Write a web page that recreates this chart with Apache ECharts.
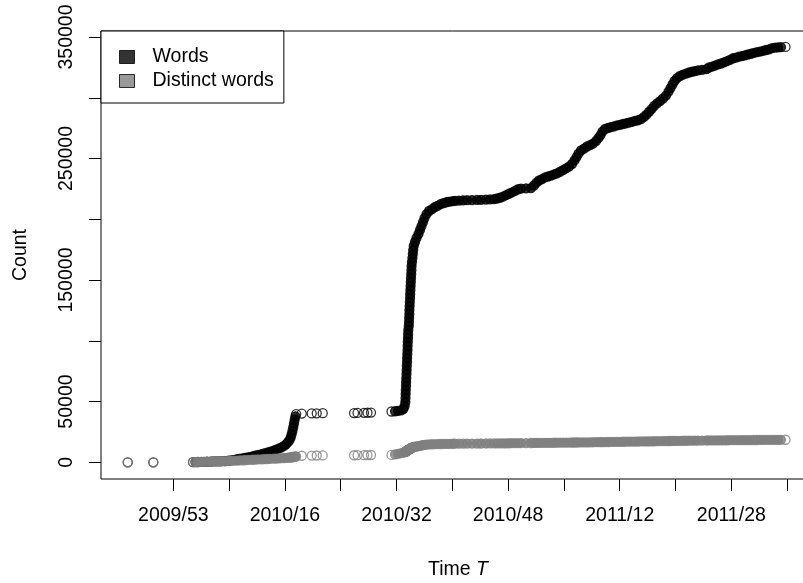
<!DOCTYPE html>
<html>
<head>
<meta charset="utf-8">
<script src="https://cdn.jsdelivr.net/npm/echarts@6/dist/echarts.min.js"></script>
<style>
  html, body { margin: 0; padding: 0; background: #fff; }
  #chart { width: 803px; height: 583px; }
</style>
</head>
<body>
<div id="chart"></div>
<script>
// Time T, in weeks counted from week 2009/53; shared by both series.
const weeks = [
  -6.54, -2.87,
  2.82, 3.18, 3.54, 4.04, 4.40, 4.83, 5.33, 5.69, 6.12, 6.62, 6.98, 7.41, 7.91, 8.27, 8.70, 9.13, 9.56, 10.06, 10.42, 10.85, 11.35,
  11.71, 12.14, 12.65, 13.00, 13.43, 13.86, 14.37, 14.72, 15.15, 15.51, 15.87, 16.16, 16.44, 16.66, 16.83, 16.97, 17.09, 17.20, 17.30, 17.40, 17.50, 17.61,
  18.41, 19.84, 20.56, 21.42,
  25.91, 26.41, 27.34, 27.84, 28.34,
  31.28, 31.79, 32.22, 32.65, 32.98, 33.16,
  33.26, 33.29, 33.31, 33.33, 33.36, 33.38, 33.40, 33.43, 33.45, 33.48, 33.51, 33.52, 33.55, 33.58, 33.59, 33.62, 33.65, 33.66, 33.69, 33.76,
  33.79, 33.81, 33.84, 33.85, 33.88, 33.91, 33.94, 33.96, 33.99, 34.02, 34.05, 34.08, 34.11, 34.14, 34.16, 34.21, 34.28, 34.34, 34.39, 34.47,
  34.65, 34.87, 35.15, 35.37, 35.58, 35.80, 36.01, 36.30, 36.66, 37.09, 37.52, 37.95, 38.38, 38.81, 39.24, 39.67, 40.10,
  40.39, 40.96, 41.53, 42.11, 42.82, 43.54, 44.11, 44.83, 45.41, 45.98, 46.41, 46.84, 47.27, 47.70, 48.13, 48.56, 48.99, 49.42, 49.85, 50.57,
  51.28, 51.71, 52.07, 52.43, 52.86, 53.29, 53.72, 54.15, 54.58, 55.01, 55.44, 55.87, 56.30, 56.73, 57.16, 57.52, 57.81, 58.09, 58.45, 58.88,
  59.31, 59.74, 60.17, 60.60, 60.96, 61.25, 61.53, 61.89, 62.32, 62.75, 63.18, 63.61, 64.04, 64.47, 64.90, 65.33, 65.76, 66.19, 66.62, 67.05,
  67.48, 67.84, 68.20, 68.56, 68.92, 69.35, 69.78, 70.21, 70.64, 71.00, 71.28, 71.57, 71.86, 72.21, 72.64, 73.07, 73.51, 73.94, 74.37, 74.80,
  75.23, 75.80, 76.44, 76.80, 77.23, 77.66, 78.09, 78.52, 78.95, 79.38, 79.81, 80.24, 80.67, 81.10, 81.53, 81.96, 82.39, 82.82, 83.25, 83.68,
  84.11, 84.54, 84.98, 85.41, 85.84, 86.27, 86.70, 87.12, 87.77
];

// Cumulative number of words at each time.
const words = [
  0, 0,
  100, 150, 250, 350, 420, 520, 600, 700, 800, 880, 950, 1050, 1300, 1600, 2000, 2500, 3000, 3500, 3900, 4300, 4900,
  5400, 6000, 6700, 7300, 8000, 8700, 9600, 10400, 11400, 12300, 13500, 14800, 16600, 18300, 20500, 23200, 26000, 29000, 32000, 35000, 37800, 39700,
  40100, 40200, 40300, 40400,
  40500, 40600, 40700, 40800, 40900,
  41800, 42000, 42300, 42700, 43800, 46200,
  49600, 52900, 56300, 59400, 62800, 66100, 69300, 72700, 75900, 79300, 82500, 85800, 89200, 92400, 95700, 99000, 102300, 105600, 108900, 112200,
  115400, 118800, 122000, 125300, 128600, 131900, 135300, 138500, 141800, 145100, 148400, 151700, 155000, 158200, 161600, 164800, 168100, 171400, 174700, 178000,
  181300, 184600, 187900, 191200, 194400, 197700, 201000, 204300, 206800, 208400, 210100, 211300, 212600, 213400, 214200, 214600, 215000,
  215200, 215400, 215600, 215700, 215800, 215900, 216000, 216200, 216300, 216500, 217100, 217700, 218600, 219800, 221000, 222200, 223400, 224700, 225300, 225500,
  225700, 227800, 230200, 231900, 233100, 234400, 235200, 236000, 237000, 237800, 239100, 240500, 241900, 243400, 245500, 248400, 251200, 254100, 256600, 258200,
  259900, 261100, 262300, 264400, 266900, 269300, 272200, 274300, 275100, 275900, 276500, 277200, 277700, 278400, 279000, 279600, 280200, 280900, 281500, 282500,
  284200, 286200, 288300, 290700, 293200, 295300, 297300, 299400, 301800, 305100, 308000, 310900, 313800, 316200, 317900, 319100, 319900, 320800, 321400, 322000,
  322600, 323000, 323500, 324900, 325700, 326500, 327400, 328200, 329200, 330100, 331200, 332500, 333100, 333800, 334300, 334900, 335600, 336200, 336900, 337500,
  338000, 338600, 339300, 339900, 340800, 341300, 341500, 341600, 341800
];

// Cumulative number of distinct words at each time.
const distinctWords = [
  0, 0,
  100, 150, 250, 350, 420, 520, 600, 700, 800, 880, 950, 1050, 1150, 1250, 1350, 1450, 1600, 1700, 1850, 1950, 2100,
  2200, 2350, 2450, 2600, 2700, 2850, 3000, 3100, 3250, 3400, 3550, 3700, 3850, 3950, 4050, 4150, 4250, 4350, 4450, 4600, 4750, 4900,
  5400, 5500, 5600, 5700,
  5800, 5850, 5900, 5950, 6000,
  6100, 6500, 7000, 7500, 8000, 8300,
  8500, 8600, 8700, 8800, 8900, 9000, 9100, 9200, 9300, 9400, 9500, 9600, 9700, 9800, 9900, 10000, 10100, 10200, 10300, 10450,
  10550, 10650, 10750, 10850, 10950, 11050, 11150, 11250, 11350, 11450, 11550, 11650, 11750, 11850, 11950, 12050, 12150, 12300, 12450, 12600,
  12800, 13000, 13300, 13600, 13850, 14100, 14300, 14500, 14700, 14850, 14950, 15000, 15050, 15100, 15150, 15200, 15250,
  15300, 15320, 15350, 15380, 15400, 15430, 15460, 15490, 15520, 15550, 15570, 15600, 15620, 15650, 15680, 15710, 15740, 15770, 15800, 15840,
  15880, 15910, 15930, 15950, 15980, 16000, 16030, 16060, 16090, 16120, 16150, 16180, 16210, 16250, 16280, 16310, 16330, 16350, 16380, 16410,
  16450, 16480, 16520, 16560, 16590, 16610, 16640, 16670, 16710, 16750, 16790, 16830, 16870, 16910, 16950, 16990, 17030, 17070, 17110, 17150,
  17190, 17220, 17260, 17290, 17330, 17370, 17410, 17450, 17490, 17520, 17550, 17580, 17600, 17640, 17680, 17720, 17750, 17790, 17820, 17850,
  17880, 17920, 17960, 17980, 18010, 18040, 18070, 18100, 18120, 18150, 18170, 18200, 18220, 18240, 18260, 18280, 18300, 18320, 18340, 18360,
  18380, 18400, 18420, 18440, 18460, 18480, 18500, 18520, 18550
];

// Axis ticks: every 8 weeks on x, every 50000 on y; only some ticks carry a label.
const xTickWeeks = [0, 8, 16, 24, 32, 40, 48, 56, 64, 72, 80, 88];
const xTickLabels = ['2009/53', '2010/08', '2010/16', '2010/24', '2010/32', '2010/40',
                     '2010/48', '2011/04', '2011/12', '2011/20', '2011/28', '2011/36'];
const xLabelWeeks = [0, 16, 32, 48, 64, 80];
const yTickValues = [0, 50000, 100000, 150000, 200000, 250000, 300000, 350000];
const yLabelValues = [0, 50000, 150000, 250000, 350000];

const FONT = '"Liberation Sans", Arial, Helvetica, sans-serif';
const FS = 19.5;
const SYMBOL = 9;

const wordsPoints = weeks.map((w, i) => [w, words[i]]);
const distinctPoints = weeks.map((w, i) => [w, distinctWords[i]]);

const chart = echarts.init(document.getElementById('chart'), null, { renderer: 'canvas' });

const circleSeries = (name, data, stroke) => ({
  name: name,
  type: 'scatter',
  data: data,
  symbol: 'circle',
  symbolSize: SYMBOL,
  itemStyle: { color: 'rgba(0,0,0,0)', borderColor: stroke, borderWidth: 1.3 },
  silent: true,
  emphasis: { disabled: true },
  large: false,
  clip: true
});

chart.setOption({
  animation: false,
  backgroundColor: '#fff',
  textStyle: { fontFamily: FONT, color: '#000' },
  grid: {
    left: 101, top: 31, width: 714, height: 448,
    show: true, borderColor: '#000', borderWidth: 1, backgroundColor: 'rgba(0,0,0,0)',
    containLabel: false, outerBoundsMode: 'none'
  },
  xAxis: {
    type: 'value',
    min: -10.37, max: 92.0,
    axisLine: { show: false, onZero: false },
    splitLine: { show: false },
    axisTick: { show: true, inside: false, length: 12, customValues: xTickWeeks,
                lineStyle: { color: '#000', width: 1 } },
    axisLabel: { customValues: xLabelWeeks, margin: 27, color: '#000', fontSize: FS, fontFamily: FONT,
                 formatter: v => xTickLabels[xTickWeeks.indexOf(Math.round(v))] },
    name: '{a|Time }{b|T}',
    nameLocation: 'middle',
    nameGap: 81,
    nameTextStyle: {
      color: '#000', fontSize: FS, fontFamily: FONT,
      rich: {
        a: { color: '#000', fontSize: FS, fontFamily: FONT },
        b: { color: '#000', fontSize: FS, fontFamily: FONT, fontStyle: 'italic' }
      }
    }
  },
  yAxis: {
    type: 'value',
    min: -13740, max: 354940,
    axisLine: { show: false, onZero: false },
    splitLine: { show: false },
    axisTick: { show: true, inside: false, length: 12, customValues: yTickValues,
                lineStyle: { color: '#000', width: 1 } },
    axisLabel: { customValues: yLabelValues, rotate: 90, margin: 24, color: '#000', fontSize: FS, fontFamily: FONT,
                 formatter: v => String(v) },
    name: 'Count',
    nameLocation: 'middle',
    nameGap: 70,
    nameTextStyle: { color: '#000', fontSize: FS, fontFamily: FONT }
  },
  legend: {
    left: 101, top: 31,
    orient: 'vertical',
    padding: [16, 10, 12, 18],
    itemGap: 4,
    itemWidth: 15, itemHeight: 13,
    icon: 'rect',
    borderColor: '#000', borderWidth: 1, borderRadius: 0,
    backgroundColor: '#fff',
    selectedMode: false,
    textStyle: { color: '#000', fontSize: FS, fontFamily: FONT, padding: [0, 0, 0, 13] },
    data: [
      { name: 'Words', itemStyle: { color: '#000', borderColor: '#000', borderWidth: 1 } },
      { name: 'Distinct words', itemStyle: { color: '#808080', borderColor: '#000', borderWidth: 1 } }
    ]
  },
  series: [
    circleSeries('Words', wordsPoints, '#000'),
    circleSeries('Distinct words', distinctPoints, '#808080')
  ]
});

// Heavily overplotted stretches merge into a solid band: inside a long run of
// closely spaced points each circle is drawn filled, while run ends and
// isolated observations stay open circles.
function overplotStyle(points, stroke) {
  const px = points.map(p => chart.convertToPixel({ gridIndex: 0 }, p));
  const runId = new Array(points.length).fill(0);
  let id = 0;
  for (let i = 1; i < points.length; i++) {
    const d = Math.hypot(px[i][0] - px[i - 1][0], px[i][1] - px[i - 1][1]);
    if (d > 5.3) id++;
    runId[i] = id;
  }
  const runLen = {};
  runId.forEach(r => { runLen[r] = (runLen[r] || 0) + 1; });
  return points.map((p, i) => {
    const r = runId[i];
    const isEnd = (i === 0 || runId[i - 1] !== r) || (i === points.length - 1 || runId[i + 1] !== r);
    const solid = runLen[r] >= 8 && !isEnd;
    return { value: p, itemStyle: { color: solid ? stroke : 'rgba(0,0,0,0)' } };
  });
}

chart.setOption({
  series: [
    { data: overplotStyle(wordsPoints, '#000') },
    { data: overplotStyle(distinctPoints, '#808080') }
  ]
});
</script>
</body>
</html>
